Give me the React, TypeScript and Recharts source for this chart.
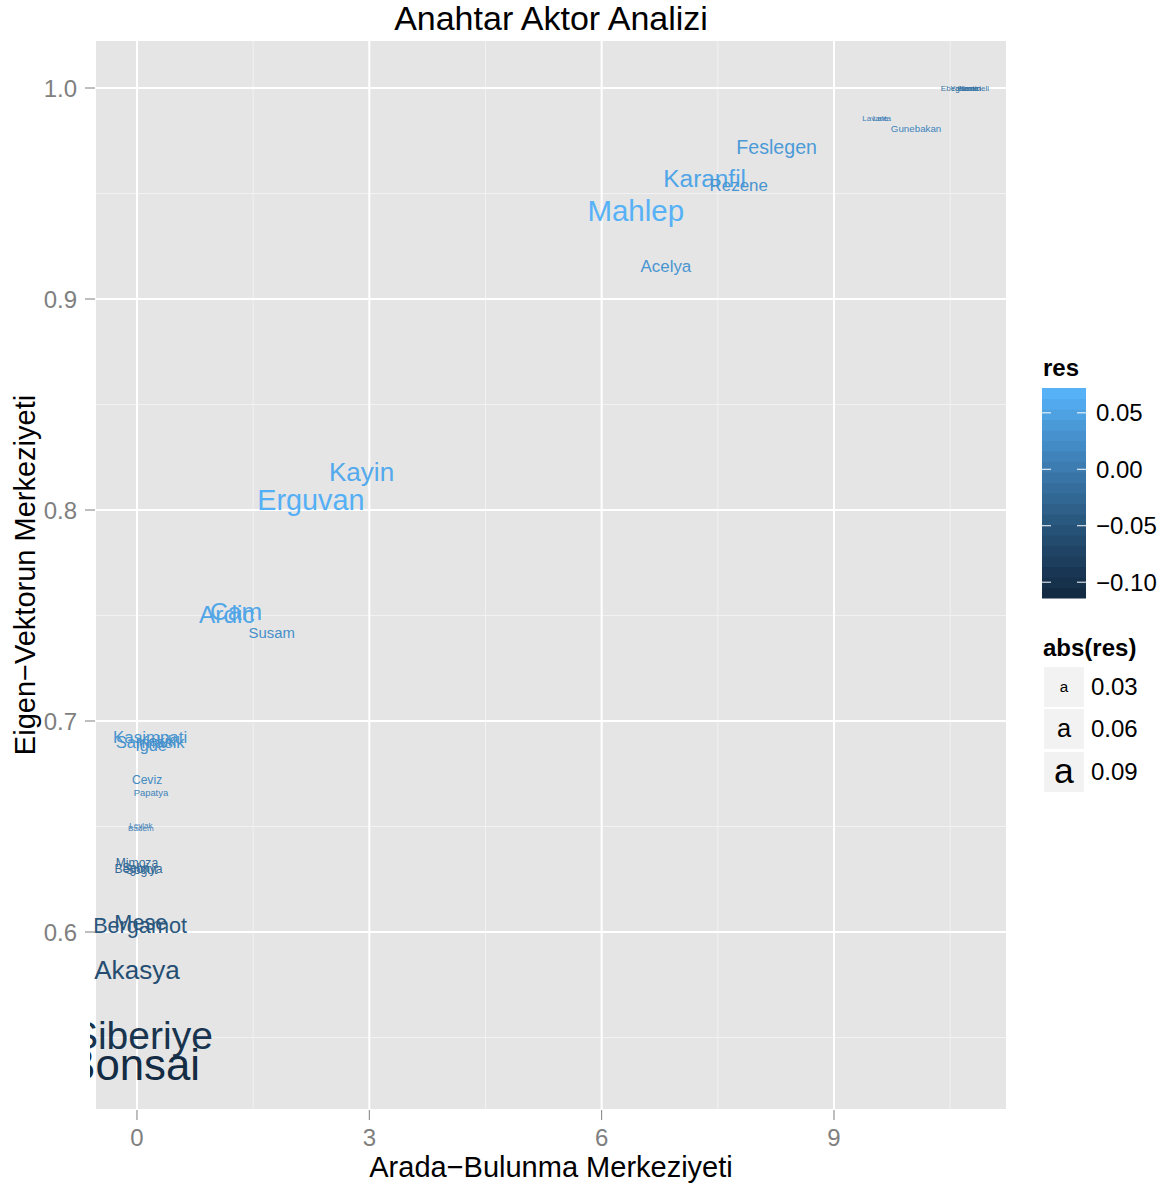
import React from "react";
import {
  ScatterChart,
  Scatter,
  XAxis,
  YAxis,
  CartesianGrid,
} from "recharts";

// ---- data -------------------------------------------------------------
const actorNames = [
  "Ebegumeci", "Yasemin", "Nane", "Hanimeli",
  "Lavanta", "Lale", "Gunebakan",
  "Feslegen", "Karanfil", "Rezene", "Mahlep", "Acelya",
  "Kayin", "Erguvan", "Ardic", "Cam", "Susam",
  "Kasimpati", "Sarmasik", "Igde", "Kekik",
  "Ceviz", "Papatya", "Leylak", "Badem",
  "Mimoza", "Selvi", "Begonya", "Sogut",
  "Bergamot", "Mese", "Akasya", "Siberiye", "Bonsai",
];
// betweenness centrality
const betweenness = [
  10.64, 10.70, 10.74, 10.80,
  9.55, 9.60, 10.06,
  8.26, 7.33, 7.77, 6.44, 6.83,
  2.90, 2.245, 1.16, 1.28, 1.74,
  0.17, 0.17, 0.18, 0.26,
  0.13, 0.18, 0.05, 0.05,
  0.0, -0.02, 0.02, 0.06,
  0.04, 0.05, 0.0, 0.07, -0.05,
];
// eigenvector centrality
const eigenvector = [
  1.0, 1.0, 1.0, 1.0,
  0.9858, 0.9858, 0.981,
  0.972, 0.957, 0.954, 0.9417, 0.9156,
  0.818, 0.805, 0.7507, 0.752, 0.742,
  0.6924, 0.69, 0.6886, 0.6905,
  0.672, 0.666, 0.6507, 0.6493,
  0.6327, 0.6303, 0.63, 0.6297,
  0.6033, 0.6047, 0.582, 0.5512, 0.537,
];
// residuals
const residuals = [
  -0.009, -0.009, -0.009, -0.009,
  0.009, 0.009, 0.014,
  0.043, 0.057, 0.035, 0.072, 0.035,
  0.062, 0.07, 0.057, 0.058, 0.029,
  0.035, 0.034, 0.033, 0.03,
  0.021, 0.013, 0.009, 0.009,
  -0.021, -0.021, -0.021, -0.021,
  -0.049, -0.049, -0.062, -0.1, -0.114,
];

const xDomain = [-0.542, 11.234];
const yDomain = [0.51564, 1.02275];
const xTicks = [0, 3, 6, 9];
const xMinor = [1.5, 4.5, 7.5, 10.5];
const yTicks = [0.6, 0.7, 0.8, 0.9, 1.0];
const yMinor = [0.55, 0.65, 0.75, 0.85, 0.95];
const colorBreaks = [0.05, 0.0, -0.05, -0.1];
const sizeBreaks = [0.03, 0.06, 0.09];

const points = actorNames.map((name, i) => ({
  name,
  x: betweenness[i],
  y: eigenvector[i],
  res: residuals[i],
}));

// ---- layout -----------------------------------------------------------
const W = 1173, H = 1189;
const M = { top: 40, right: 166, bottom: 0, left: 0 };
const Y_AXIS_W = 95, X_AXIS_H = 79;
// labels are clipped a little left of the panel background
const CLIP = { x: 90, y: M.top, w: W - M.right - 90, h: H - M.top - X_AXIS_H };

// ---- scales -----------------------------------------------------------
const FONT = "'Liberation Sans', Arial, Helvetica, sans-serif";
const LOW = "#132B43";
const HIGH = "#56B1F7";
const resMin = Math.min(...residuals);
const resMax = Math.max(...residuals);

const toLin = (c: number) => {
  const v = c / 255;
  return v <= 0.04045 ? v / 12.92 : Math.pow((v + 0.055) / 1.055, 2.4);
};
const fromLin = (c: number) => {
  const v = c <= 0.0031308 ? 12.92 * c : 1.055 * Math.pow(c, 1 / 2.4) - 0.055;
  return Math.round(Math.max(0, Math.min(1, v)) * 255);
};
const hexToLab = (hex: string) => {
  const r = toLin(parseInt(hex.slice(1, 3), 16));
  const g = toLin(parseInt(hex.slice(3, 5), 16));
  const b = toLin(parseInt(hex.slice(5, 7), 16));
  const X = (0.4124 * r + 0.3576 * g + 0.1805 * b) / 0.95047;
  const Y = 0.2126 * r + 0.7152 * g + 0.0722 * b;
  const Z = (0.0193 * r + 0.1192 * g + 0.9505 * b) / 1.08883;
  const f = (t: number) => (t > 0.008856 ? Math.cbrt(t) : 7.787 * t + 16 / 116);
  const fx = f(X), fy = f(Y), fz = f(Z);
  return [116 * fy - 16, 500 * (fx - fy), 200 * (fy - fz)];
};
const labToHex = (L: number, a: number, bb: number) => {
  const fy = (L + 16) / 116;
  const fx = fy + a / 500;
  const fz = fy - bb / 200;
  const inv = (t: number) => (t * t * t > 0.008856 ? t * t * t : (t - 16 / 116) / 7.787);
  const X = inv(fx) * 0.95047, Y = inv(fy), Z = inv(fz) * 1.08883;
  const r = 3.2406 * X - 1.5372 * Y - 0.4986 * Z;
  const g = -0.9689 * X + 1.8758 * Y + 0.0415 * Z;
  const b = 0.0557 * X - 0.204 * Y + 1.057 * Z;
  const h = (n: number) => fromLin(n).toString(16).padStart(2, "0");
  return "#" + h(r) + h(g) + h(b);
};
const labLow = hexToLab(LOW);
const labHigh = hexToLab(HIGH);
const colorFor = (v: number) => {
  const t = Math.max(0, Math.min(1, (v - resMin) / (resMax - resMin)));
  return labToHex(
    labLow[0] + (labHigh[0] - labLow[0]) * t,
    labLow[1] + (labHigh[1] - labLow[1]) * t,
    labLow[2] + (labHigh[2] - labLow[2]) * t
  );
};
const fontSizeFor = (absRes: number) => 5 + 340 * absRes;

const fmtTick = (v: number) => (v < 0 ? "\u2212" : "") + Math.abs(v).toFixed(2);

// minor grid positions from the plot offset and the axis domains
const minorH = ({ offset }: any) =>
  yMinor.map((v) => offset.top + ((yDomain[1] - v) / (yDomain[1] - yDomain[0])) * offset.height);
const minorV = ({ offset }: any) =>
  xMinor.map((v) => offset.left + ((v - xDomain[0]) / (xDomain[1] - xDomain[0])) * offset.width);

// ---- text marks -------------------------------------------------------
const TextMark = (props: any) => {
  const { cx, cy, payload } = props;
  if (cx == null || cy == null) return null;
  const id = "lblclip-" + payload.name;
  return (
    <g>
      <clipPath id={id}>
        <rect x={CLIP.x} y={CLIP.y} width={CLIP.w} height={CLIP.h} />
      </clipPath>
      <text
        x={cx}
        y={cy}
        dy="0.35em"
        textAnchor="middle"
        fontFamily={FONT}
        fontSize={fontSizeFor(Math.abs(payload.res))}
        fill={colorFor(payload.res)}
        clipPath={`url(#${id})`}
      >
        {payload.name}
      </text>
    </g>
  );
};

// ---- legends ----------------------------------------------------------
const BAR_X = 1042, BAR_W = 44, BAR_TOP = 388, BAR_H = 210, NBIN = 20;

const ColourBar = () => {
  const bins = Array.from({ length: NBIN }, (_, i) => resMin + ((resMax - resMin) * i) / (NBIN - 1));
  const yOf = (v: number) => BAR_TOP + BAR_H - ((v - resMin) / (resMax - resMin)) * BAR_H;
  const binH = BAR_H / NBIN;
  return (
    <g fontFamily={FONT}>
      <text x={1043} y={376} fontSize={24} fontWeight="bold" fill="#000">res</text>
      {bins.map((v, i) => (
        <rect
          key={i}
          x={BAR_X}
          y={BAR_TOP + BAR_H - (i + 1) * binH}
          width={BAR_W}
          height={binH + 0.5}
          fill={colorFor(v)}
        />
      ))}
      {colorBreaks.map((v) => (
        <g key={v}>
          <line x1={BAR_X} x2={BAR_X + 9} y1={yOf(v)} y2={yOf(v)} stroke="#fff" strokeWidth={1} />
          <line x1={BAR_X + BAR_W - 9} x2={BAR_X + BAR_W} y1={yOf(v)} y2={yOf(v)} stroke="#fff" strokeWidth={1} />
          <text x={1096} y={yOf(v)} dy="0.35em" fontSize={24} fill="#000">{fmtTick(v)}</text>
        </g>
      ))}
    </g>
  );
};

const SizeLegend = () => {
  const rowTop = [667, 709, 752];
  return (
    <g fontFamily={FONT}>
      <text x={1043} y={656} fontSize={24} fontWeight="bold" fill="#000">abs(res)</text>
      {sizeBreaks.map((v, i) => (
        <g key={v}>
          <rect x={1044} y={rowTop[i]} width={40} height={40} fill="#F2F2F2" />
          <text
            x={1064}
            y={rowTop[i] + 20}
            dy="0.3em"
            textAnchor="middle"
            fontSize={fontSizeFor(v)}
            fill="#000"
          >
            a
          </text>
          <text x={1091} y={rowTop[i] + 20} dy="0.35em" fontSize={24} fill="#000">
            {v.toFixed(2)}
          </text>
        </g>
      ))}
    </g>
  );
};

export default function App() {
  return (
    <div style={{ position: "absolute", left: 0, top: 0, width: W, height: H, background: "#fff" }}>
      <ScatterChart width={W} height={H} margin={M}>
        <CartesianGrid
          fill="#E5E5E5"
          stroke="#F2F2F2"
          strokeWidth={1}
          horizontalCoordinatesGenerator={minorH}
          verticalCoordinatesGenerator={minorV}
        />
        <CartesianGrid stroke="#FFFFFF" strokeWidth={2} />
        <XAxis
          type="number"
          dataKey="x"
          domain={xDomain}
          ticks={xTicks}
          height={X_AXIS_H}
          axisLine={false}
          tickSize={10}
          tickMargin={9}
          tickLine={{ stroke: "#7F7F7F" }}
          tick={{ fill: "#7F7F7F", fontSize: 24, fontFamily: FONT }}
        />
        <YAxis
          type="number"
          dataKey="y"
          domain={yDomain}
          ticks={yTicks}
          width={Y_AXIS_W}
          axisLine={false}
          tickSize={10}
          tickMargin={8}
          tickLine={{ stroke: "#7F7F7F" }}
          tick={{ fill: "#7F7F7F", fontSize: 24, fontFamily: FONT }}
          tickFormatter={(v: number) => v.toFixed(1)}
        />
        <Scatter data={points} shape={TextMark} isAnimationActive={false} />
      </ScatterChart>
      <svg
        width={W}
        height={H}
        style={{ position: "absolute", left: 0, top: 0, pointerEvents: "none" }}
      >
        <text x={551} y={30} textAnchor="middle" fontFamily={FONT} fontSize={34} fill="#000">
          Anahtar Aktor Analizi
        </text>
        <text x={551} y={1177} textAnchor="middle" fontFamily={FONT} fontSize={29} fill="#000">
          Arada{"\u2212"}Bulunma Merkeziyeti
        </text>
        <text
          transform="translate(35,575) rotate(-90)"
          textAnchor="middle"
          fontFamily={FONT}
          fontSize={29}
          fill="#000"
        >
          Eigen{"\u2212"}Vektorun Merkeziyeti
        </text>
        <ColourBar />
        <SizeLegend />
      </svg>
    </div>
  );
}
